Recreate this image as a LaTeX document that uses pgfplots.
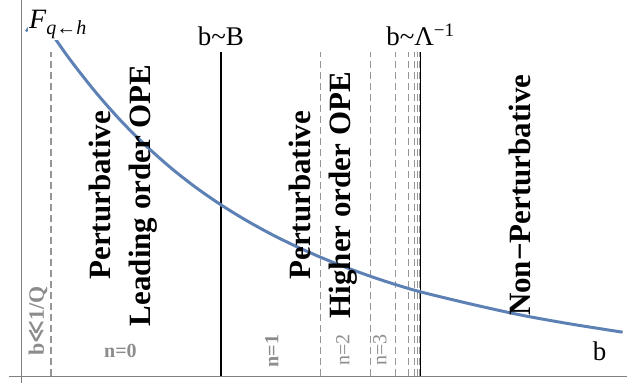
\documentclass[border=0pt]{standalone}
\usepackage{pgfplots}
\pgfplotsset{compat=1.18}
\usepackage{fontspec}
\setmainfont{Liberation Serif}
\newfontfamily\djv{DejaVu Sans}
\definecolor{curveblue}{RGB}{94,129,181}
\definecolor{lblgray}{RGB}{140,140,140}
\definecolor{dashgray}{RGB}{150,150,150}
\begin{document}
\begin{tikzpicture}
\begin{axis}[
  scale only axis, width=618pt, height=383pt,
  xmin=-0.12, xmax=6.06, ymin=-0.07, ymax=3.76,
  axis lines=middle, axis line style={draw=gray, line width=0.8pt, -},
  ticks=none, clip=false,
]
\path (axis cs:-0.21,-0.09) rectangle (axis cs:6.06,3.76);
% dashed region boundaries
\addplot[dashgray, line width=1.1pt, dash pattern=on 7pt off 4pt] coordinates {(0.3,0) (0.3,3.24)};
\addplot[dashgray, line width=1.1pt, dash pattern=on 7pt off 4pt] coordinates {(3.0,0) (3.0,3.24)};
\addplot[dashgray, line width=1.1pt, dash pattern=on 7pt off 4pt] coordinates {(3.5,0) (3.5,3.24)};
\addplot[dashgray, line width=1.1pt, dash pattern=on 7pt off 4pt] coordinates {(3.75,0) (3.75,3.24)};
\addplot[dashgray, line width=1.1pt, dash pattern=on 7pt off 4pt] coordinates {(3.875,0) (3.875,3.24)};
\addplot[dashgray, line width=1.1pt, dash pattern=on 7pt off 4pt] coordinates {(3.9375,0) (3.9375,3.24)};
\addplot[dashgray, line width=1.1pt, dash pattern=on 7pt off 4pt] coordinates {(3.96875,0) (3.96875,3.24)};
\addplot[dashgray, line width=1.1pt, dash pattern=on 7pt off 4pt] coordinates {(3.984,0) (3.984,3.24)};
% solid boundaries
\addplot[black, line width=1.3pt] coordinates {(2.0,0) (2.0,3.24)};
\addplot[black, line width=1.3pt] coordinates {(4.0,0) (4.0,3.24)};
% curve
\addplot[curveblue, line width=3pt, smooth] coordinates {
(0.34,3.38) (0.5,3.155) (0.75,2.838) (1.0,2.555) (1.25,2.306) (1.5,2.084)
(1.75,1.888) (2.0,1.715) (2.25,1.561) (2.5,1.423) (2.75,1.300) (3.0,1.189)
(3.25,1.089) (3.5,0.998) (3.75,0.916) (4.0,0.843) (4.5,0.722) (5.0,0.612)
(5.5,0.522) (6.02,0.44)};
\addplot[curveblue, line width=2.4pt] coordinates {(0.05,3.45) (0.095,3.51)};
% labels
\node[anchor=base west, fill=white, inner sep=1pt] at (axis cs:0.07,3.48)
  {\fontsize{28}{30}\selectfont\itshape F\raisebox{-6pt}{\fontsize{20}{20}\selectfont q←h}};
\node[anchor=base] at (axis cs:2.0,3.31) {\fontsize{27}{30}\selectfont b\textasciitilde B};
\node[anchor=base west] at (axis cs:3.62,3.31) {\fontsize{27}{30}\selectfont b\textasciitilde Λ\raisebox{9pt}{\fontsize{19}{20}\selectfont −1}};
\node[anchor=base] at (axis cs:5.79,0.16) {\fontsize{27}{30}\selectfont b};
\node[rotate=90, text=lblgray] at (axis cs:0.17,0.55) {\fontsize{22}{24}\selectfont\bfseries b{\djv ≪}1/Q};
\node[anchor=base, text=lblgray] at (axis cs:0.995,0.19) {\fontsize{20}{22}\selectfont\bfseries n=0};
\node[rotate=90, text=lblgray] at (axis cs:2.51,0.25) {\fontsize{20}{22}\selectfont\bfseries n=1};
\node[rotate=90, text=lblgray] at (axis cs:3.22,0.26) {\fontsize{20}{22}\selectfont n=2};
\node[rotate=90, text=lblgray] at (axis cs:3.59,0.26) {\fontsize{20}{22}\selectfont n=3};
\node[rotate=90, align=center, font=\fontsize{31}{40}\selectfont\bfseries] at (axis cs:1.025,1.81) {Perturbative\\Leading order OPE};
\node[rotate=90, align=center, font=\fontsize{31}{40}\selectfont\bfseries] at (axis cs:3.025,1.81) {Perturbative\\Higher order OPE};
\node[rotate=90, font=\fontsize{31}{40}\selectfont\bfseries] at (axis cs:4.99,1.81) {Non−Perturbative};
\end{axis}
\end{tikzpicture}
\end{document}
